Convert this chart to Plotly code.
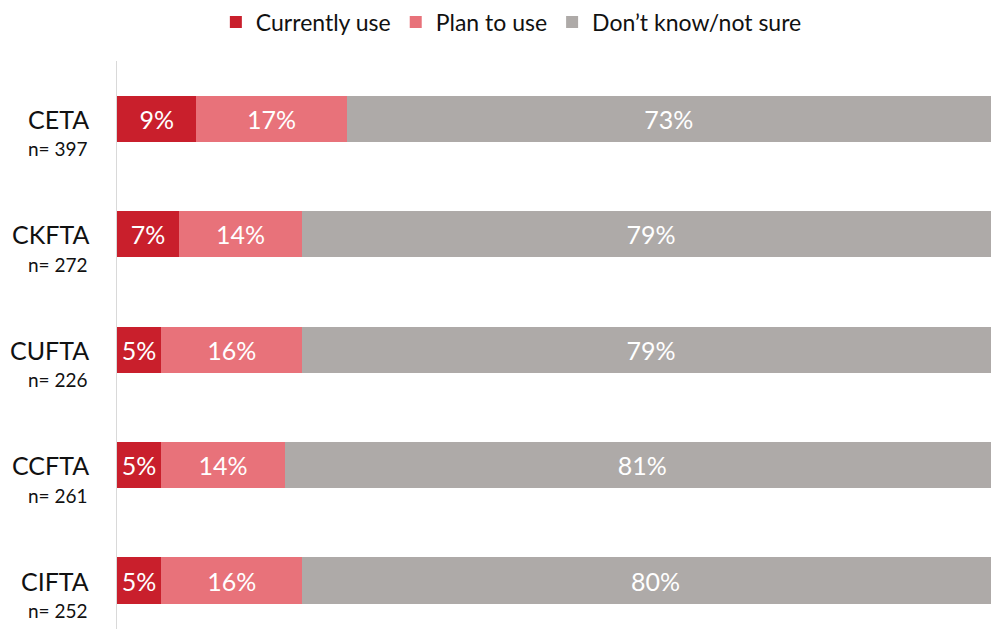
import plotly.graph_objects as go

# Survey results: awareness/use of each free trade agreement
agreements = ["CETA", "CKFTA", "CUFTA", "CCFTA", "CIFTA"]
sample_sizes = [397, 272, 226, 261, 252]
currently_use = [9, 7, 5, 5, 5]
plan_to_use = [17, 14, 16, 14, 16]
not_sure = [73, 79, 79, 81, 80]

series = [
    ("Currently use", currently_use, "#C91F2C"),
    ("Plan to use", plan_to_use, "#E8727A"),
    ("Don\u2019t know/not sure", not_sure, "#AEAAA8"),
]

FONT = "Lato, 'Open Sans', sans-serif"

fig = go.Figure()
for name, values, color in series:
    fig.add_trace(go.Bar(
        y=agreements,
        x=values,
        name=name,
        orientation="h",
        marker=dict(color=color, line=dict(width=0)),
        text=[f"{v}%" for v in values],
        textposition="inside",
        insidetextanchor="middle",
        textfont=dict(color="white", size=25, family=FONT),
        hoverinfo="skip",
    ))

# Category names with sample size underneath
for name, n in zip(agreements, sample_sizes):
    fig.add_annotation(
        x=0, xref="paper", y=name, yref="y",
        text=name, showarrow=False,
        xanchor="right", yanchor="middle", xshift=-26,
        font=dict(size=25, color="#111111", family=FONT),
    )
    fig.add_annotation(
        x=0, xref="paper", y=name, yref="y",
        text=f"n= {n}", showarrow=False,
        xanchor="right", yanchor="middle", xshift=-27, yshift=-30,
        font=dict(size=19, color="#111111", family=FONT),
    )

fig.update_layout(
    width=991, height=629,
    barmode="stack",
    bargap=0.6,
    plot_bgcolor="white",
    paper_bgcolor="white",
    margin=dict(l=117, r=0, t=61, b=0),
    font=dict(family=FONT, color="#111111"),
    showlegend=True,
    legend=dict(
        orientation="h",
        xref="container", yref="container",
        x=0.516, xanchor="center",
        y=1 - 22 / 629, yanchor="middle",
        font=dict(size=23, color="#111111", family=FONT),
        traceorder="normal",
        itemsizing="constant",
    ),
    xaxis=dict(range=[0, 99], visible=False, showgrid=False, zeroline=False),
    yaxis=dict(
        range=[4.42, -0.5],
        showticklabels=False,
        ticks="",
        showgrid=False,
        zeroline=False,
        showline=True,
        linecolor="#D9D9D9",
        linewidth=1,
    ),
)

fig.write_html("out.html")
